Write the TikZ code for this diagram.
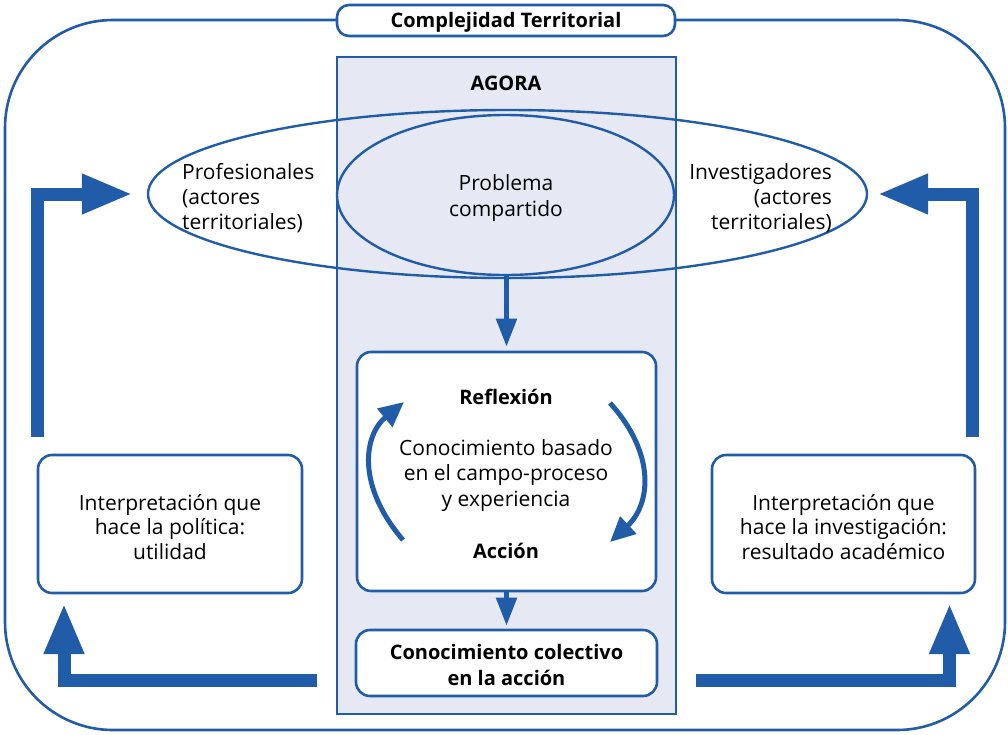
\documentclass[tikz,border=0pt]{standalone}
\usepackage{fontspec}
\setmainfont{Open Sans}
\usetikzlibrary{arrows.meta,shapes.geometric}
\definecolor{bl}{HTML}{215CA8}
\definecolor{ag}{HTML}{E6E9F4}
\begin{document}
\begin{tikzpicture}[x=1pt,y=-1pt,
  txt/.style={font=\fontsize{21}{25.3}\selectfont, align=center, inner sep=0pt, text=black},
  btxt/.style={font=\fontsize{20}{25.5}\selectfont\bfseries, align=center, inner sep=0pt, text=black},
  rbox/.style={draw=bl, line width=2.6pt, rounded corners=14pt, fill=white, inner sep=0pt},
  ell/.style={ellipse, draw=bl, line width=2.4pt, inner sep=0pt},
  fatarrow/.style={draw=bl, line width=13pt, line join=miter, -{Triangle[length=51pt,width=37pt]}},
  midarrow/.style={draw=bl, line width=5pt, -{Triangle[length=28pt,width=20pt]}},
  cycarrow/.style={draw=bl, line width=5pt, -{Triangle[length=25pt,width=23pt]}}
]
\useasboundingbox (0,0) rectangle (1008,734);
% outer frame
\node[draw=bl, line width=2.6pt, rounded corners=108pt, minimum width=1000pt, minimum height=710pt, inner sep=0pt] (marco) at (505,375) {};
% title
\node[rbox, rounded corners=12pt, minimum width=338pt, minimum height=31pt] (titulo) at (506,20.5) {};
\node[btxt] (titulotxt) at (506,22.5) {Complejidad Territorial};
% agora
\node[draw=bl, fill=ag, line width=2.6pt, minimum width=339pt, minimum height=657pt, inner sep=0pt] (agora) at (506.5,385.5) {};
\node[btxt] (agoralbl) at (506,83) {AGORA};
% ellipses
\node[ell, minimum width=719pt, minimum height=168pt] (grande) at (507.5,194) {};
\node[ell, fill=ag, minimum width=337pt, minimum height=160pt] (prob) at (505.5,195) {};
\node[txt] (probtxt) at (506,198) {Problema\\compartido};
\node[txt, align=left, anchor=west] (prof) at (182,198) {Profesionales\\(actores\\territoriales)};
\node[txt, align=right, anchor=east] (inv) at (832,198) {Investigadores\\(actores\\territoriales)};
% reflexion box
\node[rbox, minimum width=299pt, minimum height=239pt] (refl) at (506.5,471.5) {};
\node[btxt] (refltxt) at (506,396.5) {Reflexión};
\node[txt] (conoc) at (506,475.5) {Conocimiento basado\\en el campo-proceso\\y experiencia};
\node[btxt] (accion) at (506,551) {Acción};
% colectivo
\node[rbox, minimum width=301pt, minimum height=66pt] (colect) at (506.5,663) {};
\node[btxt] (colecttxt) at (506.5,665) {Conocimiento colectivo\\en la acción};
% interpretation boxes
\node[rbox, minimum width=264pt, minimum height=138pt] (ipol) at (170,524) {};
\node[txt, font=\fontsize{21}{24.3}\selectfont] (ipoltxt) at (170,527) {Interpretación que\\hace la política:\\utilidad};
\node[rbox, minimum width=263pt, minimum height=138pt] (iinv) at (843.5,524) {};
\node[txt, font=\fontsize{21}{24.3}\selectfont] (iinvtxt) at (843.5,527) {Interpretación que\\hace la investigación:\\resultado académico};
% middle arrows
\draw[midarrow, shorten >=4pt] (prob.south -| refl.north) -- (refl.north);
\draw[midarrow, shorten >=3pt] (refl.south) -- (colect.north);
% cycle arrows
\coordinate (cl1) at (403,540);
\coordinate (cl2) at (404,402);
\coordinate (cr1) at (610,403);
\coordinate (cr2) at (610,542);
\draw[cycarrow] (cl1) .. controls (356,485) and (364,435) .. (cl2);
\draw[cycarrow] (cr1) .. controls (657,455) and (650,505) .. (cr2);
% big arrows
\coordinate (a1s) at (37.5,437);
\coordinate (a2s) at (972.5,437);
\coordinate (a3s) at (317,680);
\coordinate (a4s) at (696,680);
\coordinate (a3e) at (64,593);
\coordinate (a4e) at (949.5,593);
\draw[fatarrow, shorten >=14pt] (a1s) |- (grande.west);
\draw[fatarrow, shorten >=9pt] (a2s) |- (grande.east);
\draw[fatarrow, shorten >=10pt] (a3s) -| (a3e);
\draw[fatarrow, shorten >=10pt] (a4s) -| (a4e);
\end{tikzpicture}
\end{document}
